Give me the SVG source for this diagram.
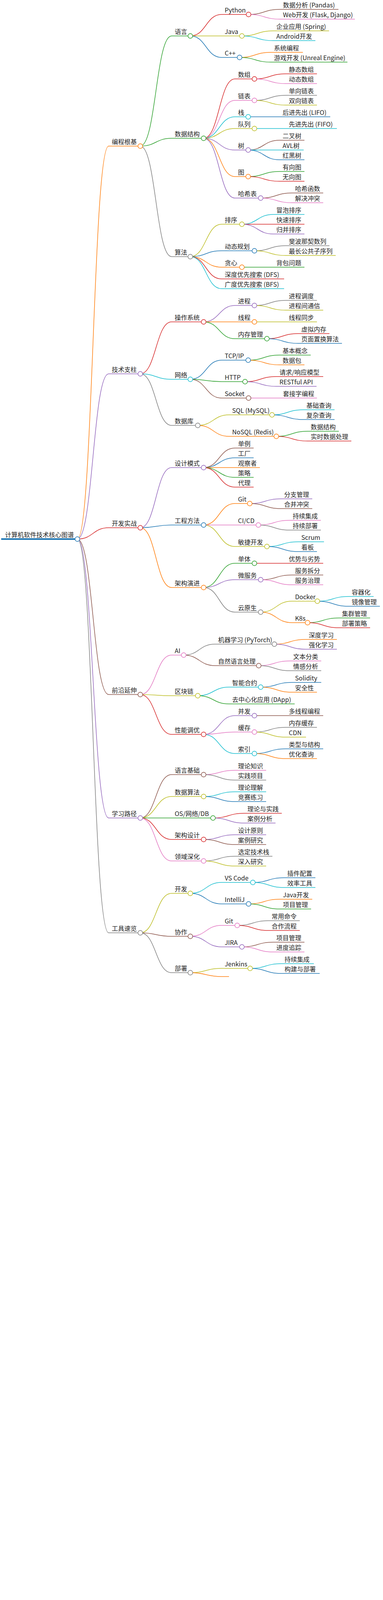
<svg xmlns="http://www.w3.org/2000/svg" width="980" height="4291" viewBox="0 0 980 4291">
<style>
text{font-family:"Noto Sans CJK SC","Noto Sans",sans-serif;font-size:16px;fill:#222}
path{fill:none;stroke-width:1.5}
circle{fill:#fff;stroke-width:1.5}
.c0{stroke:#1f77b4}.c1{stroke:#ff7f0e}.c2{stroke:#2ca02c}.c3{stroke:#d62728}.c4{stroke:#9467bd}
.c5{stroke:#8c564b}.c6{stroke:#e377c2}.c7{stroke:#7f7f7f}.c8{stroke:#bcbd22}.c9{stroke:#17becf}
</style>
<rect width="980" height="4291" fill="#fff"/>
<g id="connectors">
<path class="c1" d="M198 1380C238 1380 238 374 278 374"/>
<path class="c4" d="M198 1380C238 1380 238 957 278 957"/>
<path class="c3" d="M198 1380C238 1380 238 1351 278 1351"/>
<path class="c5" d="M198 1380C238 1380 238 1778 278 1778"/>
<path class="c4" d="M198 1380C238 1380 238 2094 278 2094"/>
<path class="c7" d="M198 1380C238 1380 238 2388 278 2388"/>
<path class="c2" d="M359 374C399 374 399 92 439 92"/>
<path class="c2" d="M359 374C399 374 399 354 439 354"/>
<path class="c7" d="M359 374C399 374 399 657 439 657"/>
<path class="c3" d="M359 957C399 957 399 824 439 824"/>
<path class="c9" d="M359 957C399 957 399 971 439 971"/>
<path class="c7" d="M359 957C399 957 399 1089 439 1089"/>
<path class="c4" d="M359 1351C399 1351 399 1197 439 1197"/>
<path class="c0" d="M359 1351C399 1351 399 1344 439 1344"/>
<path class="c1" d="M359 1351C399 1351 399 1504 439 1504"/>
<path class="c6" d="M359 1778C399 1778 399 1677 439 1677"/>
<path class="c8" d="M359 1778C399 1778 399 1781 439 1781"/>
<path class="c3" d="M359 1778C399 1778 399 1880 439 1880"/>
<path class="c5" d="M359 2094C399 2094 399 1983 439 1983"/>
<path class="c8" d="M359 2094C399 2094 399 2039 439 2039"/>
<path class="c2" d="M359 2094C399 2094 399 2094 439 2094"/>
<path class="c3" d="M359 2094C399 2094 399 2149 439 2149"/>
<path class="c6" d="M359 2094C399 2094 399 2204 439 2204"/>
<path class="c8" d="M359 2388C399 2388 399 2287 439 2287"/>
<path class="c5" d="M359 2388C399 2388 399 2397 439 2397"/>
<path class="c7" d="M359 2388C399 2388 399 2490 439 2490"/>
<path class="c3" d="M487 92C527 92 527 37 567 37"/>
<path class="c8" d="M487 92C527 92 527 92 567 92"/>
<path class="c0" d="M487 92C527 92 527 147 567 147"/>
<path class="c5" d="M636 37C676 37 676 24 716 24"/>
<path class="c6" d="M636 37C676 37 676 49 716 49"/>
<path class="c8" d="M619 92C659 92 659 79 699 79"/>
<path class="c9" d="M619 92C659 92 659 104 699 104"/>
<path class="c1" d="M613 147C653 147 653 134 693 134"/>
<path class="c2" d="M613 147C653 147 653 159 693 159"/>
<path class="c3" d="M521 354C561 354 561 202 601 202"/>
<path class="c6" d="M521 354C561 354 561 257 601 257"/>
<path class="c9" d="M521 354C561 354 561 299 601 299"/>
<path class="c8" d="M521 354C561 354 561 329 601 329"/>
<path class="c4" d="M521 354C561 354 561 384 601 384"/>
<path class="c1" d="M521 354C561 354 561 452 601 452"/>
<path class="c4" d="M521 354C561 354 561 507 601 507"/>
<path class="c3" d="M651 202C691 202 691 189 731 189"/>
<path class="c6" d="M651 202C691 202 691 214 731 214"/>
<path class="c7" d="M651 257C691 257 691 244 731 244"/>
<path class="c8" d="M651 257C691 257 691 269 731 269"/>
<path class="c0" d="M635 299C675 299 675 299 715 299"/>
<path class="c9" d="M651 329C691 329 691 329 731 329"/>
<path class="c5" d="M635 384C675 384 675 359 715 359"/>
<path class="c9" d="M635 384C675 384 675 384 715 384"/>
<path class="c0" d="M635 384C675 384 675 409 715 409"/>
<path class="c2" d="M635 452C675 452 675 439 715 439"/>
<path class="c3" d="M635 452C675 452 675 464 715 464"/>
<path class="c5" d="M667 507C707 507 707 494 747 494"/>
<path class="c6" d="M667 507C707 507 707 519 747 519"/>
<path class="c8" d="M487 657C527 657 527 574 567 574"/>
<path class="c0" d="M487 657C527 657 527 642 567 642"/>
<path class="c1" d="M487 657C527 657 527 684 567 684"/>
<path class="c3" d="M487 657C527 657 527 714 567 714"/>
<path class="c9" d="M487 657C527 657 527 739 567 739"/>
<path class="c9" d="M619 574C659 574 659 549 699 549"/>
<path class="c3" d="M619 574C659 574 659 574 699 574"/>
<path class="c4" d="M619 574C659 574 659 599 699 599"/>
<path class="c7" d="M651 642C691 642 691 629 731 629"/>
<path class="c8" d="M651 642C691 642 691 654 731 654"/>
<path class="c2" d="M619 684C659 684 659 684 699 684"/>
<path class="c4" d="M521 824C561 824 561 782 601 782"/>
<path class="c1" d="M521 824C561 824 561 824 601 824"/>
<path class="c2" d="M521 824C561 824 561 867 601 867"/>
<path class="c7" d="M651 782C691 782 691 769 731 769"/>
<path class="c8" d="M651 782C691 782 691 794 731 794"/>
<path class="c8" d="M651 824C691 824 691 824 731 824"/>
<path class="c3" d="M683 867C723 867 723 854 763 854"/>
<path class="c0" d="M683 867C723 867 723 879 763 879"/>
<path class="c0" d="M487 971C527 971 527 922 567 922"/>
<path class="c2" d="M487 971C527 971 527 977 567 977"/>
<path class="c5" d="M487 971C527 971 527 1019 567 1019"/>
<path class="c2" d="M635 922C675 922 675 909 715 909"/>
<path class="c1" d="M635 922C675 922 675 934 715 934"/>
<path class="c3" d="M627 977C667 977 667 964 707 964"/>
<path class="c4" d="M627 977C667 977 667 989 707 989"/>
<path class="c6" d="M636 1019C676 1019 676 1019 716 1019"/>
<path class="c8" d="M506 1089C546 1089 546 1062 586 1062"/>
<path class="c1" d="M506 1089C546 1089 546 1117 586 1117"/>
<path class="c9" d="M696 1062C736 1062 736 1049 776 1049"/>
<path class="c0" d="M696 1062C736 1062 736 1074 776 1074"/>
<path class="c2" d="M707 1117C747 1117 747 1104 787 1104"/>
<path class="c3" d="M707 1117C747 1117 747 1129 787 1129"/>
<path class="c5" d="M521 1197C561 1197 561 1147 601 1147"/>
<path class="c0" d="M521 1197C561 1197 561 1172 601 1172"/>
<path class="c1" d="M521 1197C561 1197 561 1197 601 1197"/>
<path class="c2" d="M521 1197C561 1197 561 1222 601 1222"/>
<path class="c3" d="M521 1197C561 1197 561 1247 601 1247"/>
<path class="c1" d="M521 1344C561 1344 561 1289 601 1289"/>
<path class="c6" d="M521 1344C561 1344 561 1344 601 1344"/>
<path class="c8" d="M521 1344C561 1344 561 1399 601 1399"/>
<path class="c4" d="M639 1289C679 1289 679 1277 719 1277"/>
<path class="c5" d="M639 1289C679 1289 679 1302 719 1302"/>
<path class="c6" d="M661 1344C701 1344 701 1332 741 1332"/>
<path class="c7" d="M661 1344C701 1344 701 1357 741 1357"/>
<path class="c9" d="M683 1399C723 1399 723 1387 763 1387"/>
<path class="c0" d="M683 1399C723 1399 723 1412 763 1412"/>
<path class="c2" d="M521 1504C561 1504 561 1442 601 1442"/>
<path class="c4" d="M521 1504C561 1504 561 1484 601 1484"/>
<path class="c7" d="M521 1504C561 1504 561 1567 601 1567"/>
<path class="c3" d="M651 1442C691 1442 691 1442 731 1442"/>
<path class="c5" d="M667 1484C707 1484 707 1472 747 1472"/>
<path class="c6" d="M667 1484C707 1484 707 1497 747 1497"/>
<path class="c8" d="M667 1567C707 1567 707 1539 747 1539"/>
<path class="c1" d="M667 1567C707 1567 707 1594 747 1594"/>
<path class="c9" d="M812 1539C852 1539 852 1527 892 1527"/>
<path class="c0" d="M812 1539C852 1539 852 1552 892 1552"/>
<path class="c2" d="M787 1594C827 1594 827 1582 867 1582"/>
<path class="c3" d="M787 1594C827 1594 827 1607 867 1607"/>
<path class="c7" d="M470 1677C510 1677 510 1649 550 1649"/>
<path class="c5" d="M470 1677C510 1677 510 1704 550 1704"/>
<path class="c1" d="M702 1649C742 1649 742 1637 782 1637"/>
<path class="c4" d="M702 1649C742 1649 742 1662 782 1662"/>
<path class="c6" d="M662 1704C702 1704 702 1692 742 1692"/>
<path class="c7" d="M662 1704C702 1704 702 1717 742 1717"/>
<path class="c9" d="M506 1781C546 1781 546 1759 586 1759"/>
<path class="c2" d="M506 1781C546 1781 546 1802 586 1802"/>
<path class="c0" d="M667 1759C707 1759 707 1747 747 1747"/>
<path class="c1" d="M667 1759C707 1759 707 1772 747 1772"/>
<path class="c4" d="M521 1880C561 1880 561 1832 601 1832"/>
<path class="c6" d="M521 1880C561 1880 561 1874 601 1874"/>
<path class="c9" d="M521 1880C561 1880 561 1929 601 1929"/>
<path class="c5" d="M651 1832C691 1832 691 1832 731 1832"/>
<path class="c7" d="M651 1874C691 1874 691 1862 731 1862"/>
<path class="c8" d="M651 1874C691 1874 691 1887 731 1887"/>
<path class="c0" d="M651 1929C691 1929 691 1917 731 1917"/>
<path class="c1" d="M651 1929C691 1929 691 1942 731 1942"/>
<path class="c6" d="M521 1983C561 1983 561 1972 601 1972"/>
<path class="c7" d="M521 1983C561 1983 561 1997 601 1997"/>
<path class="c9" d="M521 2039C561 2039 561 2027 601 2027"/>
<path class="c0" d="M521 2039C561 2039 561 2052 601 2052"/>
<path class="c3" d="M545 2094C585 2094 585 2082 625 2082"/>
<path class="c4" d="M545 2094C585 2094 585 2107 625 2107"/>
<path class="c4" d="M521 2149C561 2149 561 2137 601 2137"/>
<path class="c5" d="M521 2149C561 2149 561 2162 601 2162"/>
<path class="c7" d="M521 2204C561 2204 561 2192 601 2192"/>
<path class="c8" d="M521 2204C561 2204 561 2217 601 2217"/>
<path class="c9" d="M487 2287C527 2287 527 2259 567 2259"/>
<path class="c0" d="M487 2287C527 2287 527 2314 567 2314"/>
<path class="c0" d="M647 2259C687 2259 687 2247 727 2247"/>
<path class="c9" d="M647 2259C687 2259 687 2272 727 2272"/>
<path class="c1" d="M636 2314C676 2314 676 2302 716 2302"/>
<path class="c2" d="M636 2314C676 2314 676 2327 716 2327"/>
<path class="c6" d="M487 2397C527 2397 527 2369 567 2369"/>
<path class="c4" d="M487 2397C527 2397 527 2424 567 2424"/>
<path class="c7" d="M607 2369C647 2369 647 2357 687 2357"/>
<path class="c3" d="M607 2369C647 2369 647 2382 687 2382"/>
<path class="c5" d="M619 2424C659 2424 659 2412 699 2412"/>
<path class="c6" d="M619 2424C659 2424 659 2437 699 2437"/>
<path class="c8" d="M487 2490C527 2490 527 2479 567 2479"/>
<path class="c1" d="M487 2490C527 2490 527 2500 567 2500"/>
<path class="c9" d="M640 2479C680 2479 680 2467 720 2467"/>
<path class="c0" d="M640 2479C680 2479 680 2492 720 2492"/>
</g>
<g id="n-root"><path class="c0" style="stroke-width:4" d="M3 1380H198"/><text x="13" y="1375">计算机软件技术核心图谱</text><circle class="c0" cx="198" cy="1380" r="6"/></g>
<g id="n-bcgj"><path class="c1" d="M278 374H359"/><text x="286" y="369">编程根基</text><circle class="c1" cx="359" cy="374" r="6"/></g>
<g id="n-jszz"><path class="c4" d="M278 957H359"/><text x="286" y="952">技术支柱</text><circle class="c4" cx="359" cy="957" r="6"/></g>
<g id="n-kfsz"><path class="c3" d="M278 1351H359"/><text x="286" y="1346">开发实战</text><circle class="c3" cx="359" cy="1351" r="6"/></g>
<g id="n-qyys"><path class="c5" d="M278 1778H359"/><text x="286" y="1773">前沿延伸</text><circle class="c5" cx="359" cy="1778" r="6"/></g>
<g id="n-xxlj"><path class="c4" d="M278 2094H359"/><text x="286" y="2089">学习路径</text><circle class="c4" cx="359" cy="2094" r="6"/></g>
<g id="n-gjsl"><path class="c7" d="M278 2388H359"/><text x="286" y="2383">工具速览</text><circle class="c7" cx="359" cy="2388" r="6"/></g>
<g id="n-yy"><path class="c2" d="M439 92H487"/><text x="447" y="87">语言</text><circle class="c2" cx="487" cy="92" r="6"/></g>
<g id="n-sjjg"><path class="c2" d="M439 354H521"/><text x="447" y="349">数据结构</text><circle class="c2" cx="521" cy="354" r="6"/></g>
<g id="n-sf"><path class="c7" d="M439 657H487"/><text x="447" y="652">算法</text><circle class="c7" cx="487" cy="657" r="6"/></g>
<g id="n-czxt"><path class="c3" d="M439 824H521"/><text x="447" y="819">操作系统</text><circle class="c3" cx="521" cy="824" r="6"/></g>
<g id="n-wl"><path class="c9" d="M439 971H487"/><text x="447" y="966">网络</text><circle class="c9" cx="487" cy="971" r="6"/></g>
<g id="n-sjk"><path class="c7" d="M439 1089H506"/><text x="447" y="1084">数据库</text><circle class="c7" cx="506" cy="1089" r="6"/></g>
<g id="n-sjms"><path class="c4" d="M439 1197H521"/><text x="447" y="1192">设计模式</text><circle class="c4" cx="521" cy="1197" r="6"/></g>
<g id="n-gcff"><path class="c0" d="M439 1344H521"/><text x="447" y="1339">工程方法</text><circle class="c0" cx="521" cy="1344" r="6"/></g>
<g id="n-jgyj"><path class="c1" d="M439 1504H521"/><text x="447" y="1499">架构演进</text><circle class="c1" cx="521" cy="1504" r="6"/></g>
<g id="n-ai"><path class="c6" d="M439 1677H470"/><text x="447" y="1672">AI</text><circle class="c6" cx="470" cy="1677" r="6"/></g>
<g id="n-qkl"><path class="c8" d="M439 1781H506"/><text x="447" y="1776">区块链</text><circle class="c8" cx="506" cy="1781" r="6"/></g>
<g id="n-xntY"><path class="c3" d="M439 1880H521"/><text x="447" y="1875">性能调优</text><circle class="c3" cx="521" cy="1880" r="6"/></g>
<g id="n-yyjc"><path class="c5" d="M439 1983H521"/><text x="447" y="1978">语言基础</text><circle class="c5" cx="521" cy="1983" r="6"/></g>
<g id="n-sjsf"><path class="c8" d="M439 2039H521"/><text x="447" y="2034">数据算法</text><circle class="c8" cx="521" cy="2039" r="6"/></g>
<g id="n-os"><path class="c2" d="M439 2094H545"/><text x="447" y="2089">OS/网络/DB</text><circle class="c2" cx="545" cy="2094" r="6"/></g>
<g id="n-jgsj"><path class="c3" d="M439 2149H521"/><text x="447" y="2144">架构设计</text><circle class="c3" cx="521" cy="2149" r="6"/></g>
<g id="n-lysh"><path class="c6" d="M439 2204H521"/><text x="447" y="2199">领域深化</text><circle class="c6" cx="521" cy="2204" r="6"/></g>
<g id="n-kf"><path class="c8" d="M439 2287H487"/><text x="447" y="2282">开发</text><circle class="c8" cx="487" cy="2287" r="6"/></g>
<g id="n-xz"><path class="c5" d="M439 2397H487"/><text x="447" y="2392">协作</text><circle class="c5" cx="487" cy="2397" r="6"/></g>
<g id="n-bs"><path class="c7" d="M439 2490H487"/><text x="447" y="2485">部署</text><circle class="c7" cx="487" cy="2490" r="6"/></g>
<g id="n-python"><path class="c3" d="M567 37H636"/><text x="575" y="32">Python</text><circle class="c3" cx="636" cy="37" r="6"/></g>
<g id="n-java"><path class="c8" d="M567 92H619"/><text x="575" y="87">Java</text><circle class="c8" cx="619" cy="92" r="6"/></g>
<g id="n-cpp"><path class="c0" d="M567 147H613"/><text x="575" y="142">C++</text><circle class="c0" cx="613" cy="147" r="6"/></g>
<g id="n-py1"><path class="c5" d="M716 24H866"/><text x="724" y="19">数据分析 (Pandas)</text></g>
<g id="n-py2"><path class="c6" d="M716 49H908"/><text x="724" y="44">Web开发 (Flask, Django)</text></g>
<g id="n-jv1"><path class="c8" d="M699 79H842"/><text x="707" y="74">企业应用 (Spring)</text></g>
<g id="n-jv2"><path class="c9" d="M699 104H807"/><text x="707" y="99">Android开发</text></g>
<g id="n-cp1"><path class="c1" d="M693 134H775"/><text x="701" y="129">系统编程</text></g>
<g id="n-cp2"><path class="c2" d="M693 159H889"/><text x="701" y="154">游戏开发 (Unreal Engine)</text></g>
<g id="n-sz"><path class="c3" d="M601 202H651"/><text x="609" y="197">数组</text><circle class="c3" cx="651" cy="202" r="6"/></g>
<g id="n-lb"><path class="c6" d="M601 257H651"/><text x="609" y="252">链表</text><circle class="c6" cx="651" cy="257" r="6"/></g>
<g id="n-zhan"><path class="c9" d="M601 299H635"/><text x="609" y="294">栈</text><circle class="c9" cx="635" cy="299" r="6"/></g>
<g id="n-dl"><path class="c8" d="M601 329H651"/><text x="609" y="324">队列</text><circle class="c8" cx="651" cy="329" r="6"/></g>
<g id="n-shu"><path class="c4" d="M601 384H635"/><text x="609" y="379">树</text><circle class="c4" cx="635" cy="384" r="6"/></g>
<g id="n-tu"><path class="c1" d="M601 452H635"/><text x="609" y="447">图</text><circle class="c1" cx="635" cy="452" r="6"/></g>
<g id="n-hxb"><path class="c4" d="M601 507H667"/><text x="609" y="502">哈希表</text><circle class="c4" cx="667" cy="507" r="6"/></g>
<g id="n-sz1"><path class="c3" d="M731 189H811"/><text x="739" y="184">静态数组</text></g>
<g id="n-sz2"><path class="c6" d="M731 214H811"/><text x="739" y="209">动态数组</text></g>
<g id="n-lb1"><path class="c7" d="M731 244H811"/><text x="739" y="239">单向链表</text></g>
<g id="n-lb2"><path class="c8" d="M731 269H811"/><text x="739" y="264">双向链表</text></g>
<g id="n-zh1"><path class="c0" d="M715 299H845"/><text x="723" y="294">后进先出 (LIFO)</text></g>
<g id="n-dl1"><path class="c9" d="M731 329H862"/><text x="739" y="324">先进先出 (FIFO)</text></g>
<g id="n-sh1"><path class="c5" d="M715 359H779"/><text x="723" y="354">二叉树</text></g>
<g id="n-sh2"><path class="c9" d="M715 384H777"/><text x="723" y="379">AVL树</text></g>
<g id="n-sh3"><path class="c0" d="M715 409H779"/><text x="723" y="404">红黑树</text></g>
<g id="n-tu1"><path class="c2" d="M715 439H779"/><text x="723" y="434">有向图</text></g>
<g id="n-tu2"><path class="c3" d="M715 464H779"/><text x="723" y="459">无向图</text></g>
<g id="n-hx1"><path class="c5" d="M747 494H827"/><text x="755" y="489">哈希函数</text></g>
<g id="n-hx2"><path class="c6" d="M747 519H827"/><text x="755" y="514">解决冲突</text></g>
<g id="n-px"><path class="c8" d="M567 574H619"/><text x="575" y="569">排序</text><circle class="c8" cx="619" cy="574" r="6"/></g>
<g id="n-dtgh"><path class="c0" d="M567 642H651"/><text x="575" y="637">动态规划</text><circle class="c0" cx="651" cy="642" r="6"/></g>
<g id="n-tx"><path class="c1" d="M567 684H619"/><text x="575" y="679">贪心</text><circle class="c1" cx="619" cy="684" r="6"/></g>
<g id="n-dfs"><path class="c3" d="M567 714H727"/><text x="575" y="709">深度优先搜索 (DFS)</text></g>
<g id="n-bfs"><path class="c9" d="M567 739H727"/><text x="575" y="734">广度优先搜索 (BFS)</text></g>
<g id="n-px1"><path class="c9" d="M699 549H779"/><text x="707" y="544">冒泡排序</text></g>
<g id="n-px2"><path class="c3" d="M699 574H779"/><text x="707" y="569">快速排序</text></g>
<g id="n-px3"><path class="c4" d="M699 599H779"/><text x="707" y="594">归并排序</text></g>
<g id="n-dt1"><path class="c7" d="M731 629H843"/><text x="739" y="624">斐波那契数列</text></g>
<g id="n-dt2"><path class="c8" d="M731 654H859"/><text x="739" y="649">最长公共子序列</text></g>
<g id="n-tx1"><path class="c2" d="M699 684H779"/><text x="707" y="679">背包问题</text></g>
<g id="n-jc"><path class="c4" d="M601 782H651"/><text x="609" y="777">进程</text><circle class="c4" cx="651" cy="782" r="6"/></g>
<g id="n-xc"><path class="c1" d="M601 824H651"/><text x="609" y="819">线程</text><circle class="c1" cx="651" cy="824" r="6"/></g>
<g id="n-ncgl"><path class="c2" d="M601 867H683"/><text x="609" y="862">内存管理</text><circle class="c2" cx="683" cy="867" r="6"/></g>
<g id="n-jc1"><path class="c7" d="M731 769H811"/><text x="739" y="764">进程调度</text></g>
<g id="n-jc2"><path class="c8" d="M731 794H827"/><text x="739" y="789">进程间通信</text></g>
<g id="n-xc1"><path class="c8" d="M731 824H811"/><text x="739" y="819">线程同步</text></g>
<g id="n-nc1"><path class="c3" d="M763 854H843"/><text x="771" y="849">虚拟内存</text></g>
<g id="n-nc2"><path class="c0" d="M763 879H875"/><text x="771" y="874">页面置换算法</text></g>
<g id="n-tcp"><path class="c0" d="M567 922H635"/><text x="575" y="917">TCP/IP</text><circle class="c0" cx="635" cy="922" r="6"/></g>
<g id="n-http"><path class="c2" d="M567 977H627"/><text x="575" y="972">HTTP</text><circle class="c2" cx="627" cy="977" r="6"/></g>
<g id="n-socket"><path class="c5" d="M567 1019H636"/><text x="575" y="1014">Socket</text><circle class="c5" cx="636" cy="1019" r="6"/></g>
<g id="n-tcp1"><path class="c2" d="M715 909H795"/><text x="723" y="904">基本概念</text></g>
<g id="n-tcp2"><path class="c1" d="M715 934H779"/><text x="723" y="929">数据包</text></g>
<g id="n-http1"><path class="c3" d="M707 964H827"/><text x="715" y="959">请求/响应模型</text></g>
<g id="n-http2"><path class="c4" d="M707 989H810"/><text x="715" y="984">RESTful API</text></g>
<g id="n-sk1"><path class="c6" d="M716 1019H811"/><text x="724" y="1014">套接字编程</text></g>
<g id="n-sql"><path class="c8" d="M586 1062H696"/><text x="594" y="1057">SQL (MySQL)</text><circle class="c8" cx="696" cy="1062" r="6"/></g>
<g id="n-nosql"><path class="c1" d="M586 1117H707"/><text x="594" y="1112">NoSQL (Redis)</text><circle class="c1" cx="707" cy="1117" r="6"/></g>
<g id="n-sql1"><path class="c9" d="M776 1049H856"/><text x="784" y="1044">基础查询</text></g>
<g id="n-sql2"><path class="c0" d="M776 1074H856"/><text x="784" y="1069">复杂查询</text></g>
<g id="n-ns1"><path class="c2" d="M787 1104H867"/><text x="795" y="1099">数据结构</text></g>
<g id="n-ns2"><path class="c3" d="M787 1129H899"/><text x="795" y="1124">实时数据处理</text></g>
<g id="n-dl-1"><path class="c5" d="M601 1147H649"/><text x="609" y="1142">单例</text></g>
<g id="n-gc"><path class="c0" d="M601 1172H649"/><text x="609" y="1167">工厂</text></g>
<g id="n-gcz"><path class="c1" d="M601 1197H665"/><text x="609" y="1192">观察者</text></g>
<g id="n-cl"><path class="c2" d="M601 1222H649"/><text x="609" y="1217">策略</text></g>
<g id="n-dli"><path class="c3" d="M601 1247H649"/><text x="609" y="1242">代理</text></g>
<g id="n-git"><path class="c1" d="M601 1289H639"/><text x="609" y="1284">Git</text><circle class="c1" cx="639" cy="1289" r="6"/></g>
<g id="n-cicd"><path class="c6" d="M601 1344H661"/><text x="609" y="1339">CI/CD</text><circle class="c6" cx="661" cy="1344" r="6"/></g>
<g id="n-mjkf"><path class="c8" d="M601 1399H683"/><text x="609" y="1394">敏捷开发</text><circle class="c8" cx="683" cy="1399" r="6"/></g>
<g id="n-git1"><path class="c4" d="M719 1277H799"/><text x="727" y="1272">分支管理</text></g>
<g id="n-git2"><path class="c5" d="M719 1302H799"/><text x="727" y="1297">合并冲突</text></g>
<g id="n-ci1"><path class="c6" d="M741 1332H821"/><text x="749" y="1327">持续集成</text></g>
<g id="n-ci2"><path class="c7" d="M741 1357H821"/><text x="749" y="1352">持续部署</text></g>
<g id="n-mj1"><path class="c9" d="M763 1387H829"/><text x="771" y="1382">Scrum</text></g>
<g id="n-mj2"><path class="c0" d="M763 1412H811"/><text x="771" y="1407">看板</text></g>
<g id="n-dt"><path class="c2" d="M601 1442H651"/><text x="609" y="1437">单体</text><circle class="c2" cx="651" cy="1442" r="6"/></g>
<g id="n-wfw"><path class="c4" d="M601 1484H667"/><text x="609" y="1479">微服务</text><circle class="c4" cx="667" cy="1484" r="6"/></g>
<g id="n-yys"><path class="c7" d="M601 1567H667"/><text x="609" y="1562">云原生</text><circle class="c7" cx="667" cy="1567" r="6"/></g>
<g id="n-dt1b"><path class="c3" d="M731 1442H827"/><text x="739" y="1437">优势与劣势</text></g>
<g id="n-wf1"><path class="c5" d="M747 1472H827"/><text x="755" y="1467">服务拆分</text></g>
<g id="n-wf2"><path class="c6" d="M747 1497H827"/><text x="755" y="1492">服务治理</text></g>
<g id="n-docker"><path class="c8" d="M747 1539H812"/><text x="755" y="1534">Docker</text><circle class="c8" cx="812" cy="1539" r="6"/></g>
<g id="n-k8s"><path class="c1" d="M747 1594H787"/><text x="755" y="1589">K8s</text><circle class="c1" cx="787" cy="1594" r="6"/></g>
<g id="n-dk1"><path class="c9" d="M892 1527H956"/><text x="900" y="1522">容器化</text></g>
<g id="n-dk2"><path class="c0" d="M892 1552H972"/><text x="900" y="1547">镜像管理</text></g>
<g id="n-k1"><path class="c2" d="M867 1582H947"/><text x="875" y="1577">集群管理</text></g>
<g id="n-k2"><path class="c3" d="M867 1607H947"/><text x="875" y="1602">部署策略</text></g>
<g id="n-ml"><path class="c7" d="M550 1649H702"/><text x="558" y="1644">机器学习 (PyTorch)</text><circle class="c7" cx="702" cy="1649" r="6"/></g>
<g id="n-nlp"><path class="c5" d="M550 1704H662"/><text x="558" y="1699">自然语言处理</text><circle class="c5" cx="662" cy="1704" r="6"/></g>
<g id="n-ml1"><path class="c1" d="M782 1637H862"/><text x="790" y="1632">深度学习</text></g>
<g id="n-ml2"><path class="c4" d="M782 1662H862"/><text x="790" y="1657">强化学习</text></g>
<g id="n-nlp1"><path class="c6" d="M742 1692H822"/><text x="750" y="1687">文本分类</text></g>
<g id="n-nlp2"><path class="c7" d="M742 1717H822"/><text x="750" y="1712">情感分析</text></g>
<g id="n-znhy"><path class="c9" d="M586 1759H667"/><text x="594" y="1754">智能合约</text><circle class="c9" cx="667" cy="1759" r="6"/></g>
<g id="n-dapp"><path class="c2" d="M586 1802H754"/><text x="594" y="1797">去中心化应用 (DApp)</text></g>
<g id="n-zn1"><path class="c0" d="M747 1747H822"/><text x="755" y="1742">Solidity</text></g>
<g id="n-zn2"><path class="c1" d="M747 1772H811"/><text x="755" y="1767">安全性</text></g>
<g id="n-bf"><path class="c4" d="M601 1832H651"/><text x="609" y="1827">并发</text><circle class="c4" cx="651" cy="1832" r="6"/></g>
<g id="n-hc"><path class="c6" d="M601 1874H651"/><text x="609" y="1869">缓存</text><circle class="c6" cx="651" cy="1874" r="6"/></g>
<g id="n-sy"><path class="c9" d="M601 1929H651"/><text x="609" y="1924">索引</text><circle class="c9" cx="651" cy="1929" r="6"/></g>
<g id="n-bf1"><path class="c5" d="M731 1832H827"/><text x="739" y="1827">多线程编程</text></g>
<g id="n-hc1"><path class="c7" d="M731 1862H811"/><text x="739" y="1857">内存缓存</text></g>
<g id="n-hc2"><path class="c8" d="M731 1887H783"/><text x="739" y="1882">CDN</text></g>
<g id="n-sy1"><path class="c0" d="M731 1917H827"/><text x="739" y="1912">类型与结构</text></g>
<g id="n-sy2"><path class="c1" d="M731 1942H811"/><text x="739" y="1937">优化查询</text></g>
<g id="n-yj1"><path class="c6" d="M601 1972H681"/><text x="609" y="1967">理论知识</text></g>
<g id="n-yj2"><path class="c7" d="M601 1997H681"/><text x="609" y="1992">实践项目</text></g>
<g id="n-ss1"><path class="c9" d="M601 2027H681"/><text x="609" y="2022">理论理解</text></g>
<g id="n-ss2"><path class="c0" d="M601 2052H681"/><text x="609" y="2047">竞赛练习</text></g>
<g id="n-os1"><path class="c3" d="M625 2082H721"/><text x="633" y="2077">理论与实践</text></g>
<g id="n-os2"><path class="c4" d="M625 2107H705"/><text x="633" y="2102">案例分析</text></g>
<g id="n-jg1"><path class="c4" d="M601 2137H681"/><text x="609" y="2132">设计原则</text></g>
<g id="n-jg2"><path class="c5" d="M601 2162H681"/><text x="609" y="2157">案例研究</text></g>
<g id="n-ly1"><path class="c7" d="M601 2192H697"/><text x="609" y="2187">选定技术栈</text></g>
<g id="n-ly2"><path class="c8" d="M601 2217H681"/><text x="609" y="2212">深入研究</text></g>
<g id="n-vscode"><path class="c9" d="M567 2259H647"/><text x="575" y="2254">VS Code</text><circle class="c9" cx="647" cy="2259" r="6"/></g>
<g id="n-idea"><path class="c0" d="M567 2314H636"/><text x="575" y="2309">IntelliJ</text><circle class="c0" cx="636" cy="2314" r="6"/></g>
<g id="n-vs1"><path class="c0" d="M727 2247H807"/><text x="735" y="2242">插件配置</text></g>
<g id="n-vs2"><path class="c9" d="M727 2272H807"/><text x="735" y="2267">效率工具</text></g>
<g id="n-ij1"><path class="c1" d="M716 2302H799"/><text x="724" y="2297">Java开发</text></g>
<g id="n-ij2"><path class="c2" d="M716 2327H796"/><text x="724" y="2322">项目管理</text></g>
<g id="n-git-t"><path class="c6" d="M567 2369H607"/><text x="575" y="2364">Git</text><circle class="c6" cx="607" cy="2369" r="6"/></g>
<g id="n-jira"><path class="c4" d="M567 2424H619"/><text x="575" y="2419">JIRA</text><circle class="c4" cx="619" cy="2424" r="6"/></g>
<g id="n-gt1"><path class="c7" d="M687 2357H767"/><text x="695" y="2352">常用命令</text></g>
<g id="n-gt2"><path class="c3" d="M687 2382H767"/><text x="695" y="2377">合作流程</text></g>
<g id="n-jr1"><path class="c5" d="M699 2412H779"/><text x="707" y="2407">项目管理</text></g>
<g id="n-jr2"><path class="c6" d="M699 2437H779"/><text x="707" y="2432">进度追踪</text></g>
<g id="n-jenkins"><path class="c8" d="M567 2479H640"/><text x="575" y="2474">Jenkins</text><circle class="c8" cx="640" cy="2479" r="6"/></g>
<g id="n-empty"><path class="c1" d="M567 2500H586"/></g>
<g id="n-jk1"><path class="c9" d="M720 2467H803"/><text x="728" y="2462">持续集成</text></g>
<g id="n-jk2"><path class="c0" d="M720 2492H818"/><text x="728" y="2487">构建与部署</text></g>
</svg>
